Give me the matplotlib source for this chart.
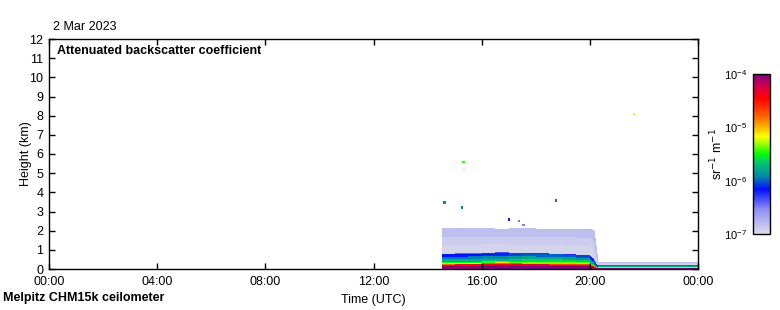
import numpy as np
import matplotlib
matplotlib.use('Agg')
import matplotlib.pyplot as plt
from matplotlib.colors import LinearSegmentedColormap, LogNorm

plt.rcParams['font.family'] = ['Liberation Sans', 'DejaVu Sans']
plt.rcParams['font.size'] = 9

# time edges of the measured block (hours UTC)
t_edges = [14.55, 15.0, 15.5, 16.0, 16.5, 17.0, 17.5, 18.0, 18.5, 19.0, 19.5,
           20.0, 20.15, 20.3, 21.0, 22.0, 23.0, 24.0]
# top of the aerosol layer and of the noisy region (km) at each edge
layer_top = [0.80, 0.82, 0.84, 0.86, 0.87, 0.87, 0.85, 0.83, 0.82, 0.80, 0.78,
             0.75, 0.55, 0.20, 0.20, 0.20, 0.20, 0.20]
noise_top = [2.10, 2.12, 2.12, 2.12, 2.10, 2.10, 2.12, 2.10, 2.08, 2.08, 2.10,
             2.08, 2.00, 0.36, 0.34, 0.34, 0.34, 0.34]
# shift of the layer signal for each time cell (log10)
layer_shift = [0.0, 0.0, 0.0, 0.05, 0.05, 0.1, 0.15, 0.15, 0.15, 0.15, 0.1,
               0.0, -0.1, 0.2, 0.2, 0.2, 0.2]

# vertical profile inside the layer, as fraction of layer top, and log10 beta
prof_frac = [0.0, 0.22, 0.29, 0.34, 0.39, 0.46, 0.62, 0.79, 0.96, 1.0]
prof_logb = [-4.05, -4.45, -4.8, -5.15, -5.5, -5.75, -5.95, -6.15, -6.4]
# noisy region above the layer
noise_frac = [1/3, 2/3, 1.0]
noise_logb = [-6.95, -6.9, -6.82]

# single returns above the layer: time, height, log10 beta
pt_time = [14.62, 15.28, 15.33, 18.74, 17.0, 17.39, 17.54, 21.63]
pt_height = [3.46, 3.20, 5.57, 3.58, 2.59, 2.50, 2.30, 8.09]
pt_logb = [-5.9, -5.9, -5.45, -5.95, -6.2, -6.45, -6.5, -5.2]

cmap = LinearSegmentedColormap.from_list('beta', [
    (0.0, '#dcdcec'), (0.15, '#9090f4'), (0.28, '#0010ff'), (0.36, '#0088a8'),
    (0.45, '#00c870'), (0.5, '#00ff00'), (0.57, '#a8ff00'), (0.61, '#ffff00'),
    (0.66, '#ffc000'), (0.74, '#ff6000'), (0.85, '#ff0000'), (0.93, '#d00050'),
    (1.0, '#800080')])
norm = LogNorm(1e-7, 1e-4)

te = np.array(t_edges)
lt = np.array(layer_top)
nt = np.array(noise_top)
Y = [np.array(prof_frac)[:, None] * lt[None, :]]
Y.append(lt[None, :] + np.array(noise_frac)[:, None] * (nt - lt)[None, :])
Y = np.vstack(Y)
X = np.tile(te, (Y.shape[0], 1))
C = np.vstack([np.array(prof_logb)[:, None] + np.array(layer_shift)[None, :],
               np.tile(np.array(noise_logb)[:, None], (1, len(layer_shift)))])

fig = plt.figure(figsize=(7.8, 3.1), dpi=100)
ax = fig.add_axes([49/780, 41/310, 649/780, 230/310])
ax.pcolormesh(X, Y, 10.0**C, cmap=cmap, norm=norm, shading='flat')
ax.scatter(pt_time, pt_height, c=10.0**np.array(pt_logb), cmap=cmap, norm=norm,
           marker='s', s=3, linewidths=0)

ax.set_xlim(0, 24)
ax.set_ylim(0, 12)
ax.set_xticks([0, 4, 8, 12, 16, 20, 24])
ax.set_xticklabels(['00:00', '04:00', '08:00', '12:00', '16:00', '20:00', '00:00'])
ax.set_yticks(range(0, 13))
ax.tick_params(direction='in', length=4, width=1, top=True, right=True,
               colors='black')
ax.tick_params(axis='x', pad=5)
ax.tick_params(axis='y', pad=4)
for s in ax.spines.values():
    s.set_linewidth(1)
ax.set_ylabel('Height (km)', labelpad=-2)
ax.set_xlabel('Time (UTC)', labelpad=4)
ax.text(0.012, 0.95, 'Attenuated backscatter coefficient', transform=ax.transAxes,
        fontweight='bold', va='center', ha='left')
fig.text(53/780, 1 - 27/310, '2 Mar 2023', va='center', ha='left')
fig.text(3/780, 1 - 298/310, 'Melpitz CHM15k ceilometer', va='center', ha='left',
         fontweight='bold')

cax = fig.add_axes([753/780, 76/310, 17/780, 160/310])
sm = plt.cm.ScalarMappable(norm=norm, cmap=cmap)
cb = fig.colorbar(sm, cax=cax)
cb.outline.set_linewidth(1)
cax.yaxis.set_ticks_position('left')
cax.yaxis.set_label_position('left')
cax.tick_params(which='both', length=0, pad=4, labelsize=8)
cb.set_label('sr$^{-1}$ m$^{-1}$', labelpad=-1)

fig.savefig('out.png', dpi=100)
